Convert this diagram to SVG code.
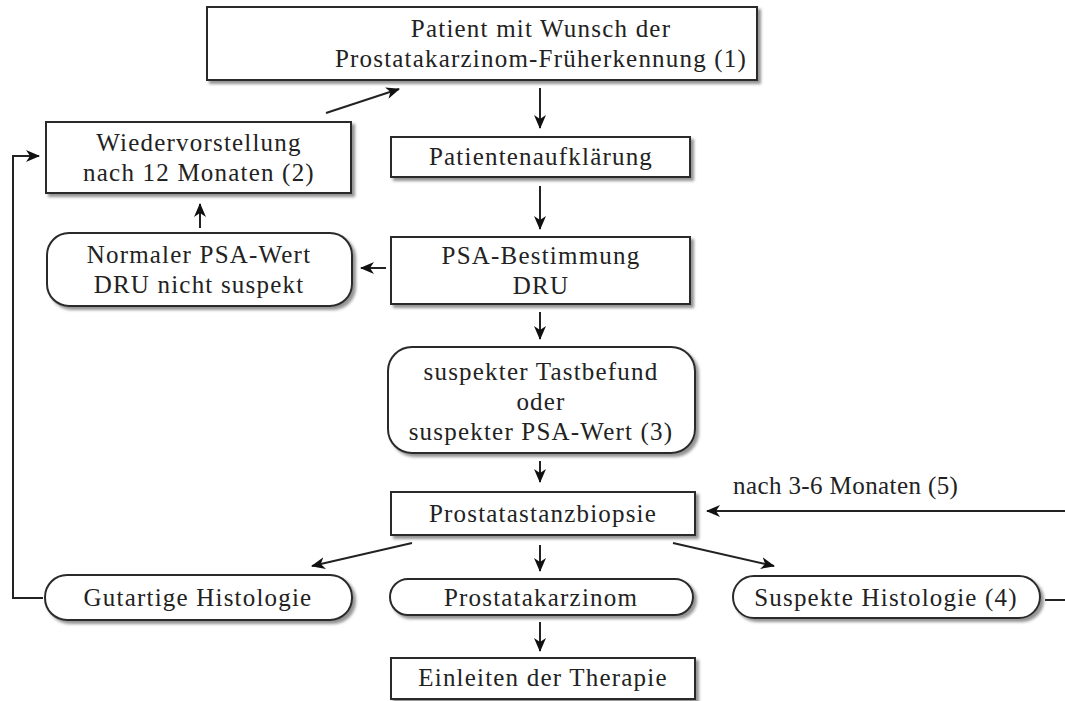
<svg xmlns="http://www.w3.org/2000/svg" width="1065" height="701" viewBox="0 0 1065 701">
<style>
.box{fill:#fff;stroke:#2a2a2a;stroke-width:2;filter:url(#sh)}
.t{font-family:"Liberation Serif","Times New Roman",serif;font-size:25px;letter-spacing:1.2px;fill:#222;text-anchor:middle}
.lbl{text-anchor:start;letter-spacing:0.4px}
.c{fill:none;stroke:#222;stroke-width:2}
.a{marker-end:url(#ah)}
</style>
<defs>
<filter id="sh" x="-10%" y="-20%" width="120%" height="150%">
<feDropShadow dx="3" dy="3" stdDeviation="1.5" flood-color="#777" flood-opacity="0.8"/>
</filter>
<marker id="ah" markerUnits="userSpaceOnUse" markerWidth="14" markerHeight="12" viewBox="0 0 14 12" refX="13" refY="6" orient="auto">
<path d="M0,0 L14,6 L0,12 L4,6 z" fill="#111"/>
</marker>
</defs>
<g id="connectors">
<line class="c a" x1="540" y1="88" x2="540" y2="128"/>
<line class="c a" x1="540" y1="186" x2="540" y2="229"/>
<line class="c a" x1="386" y1="268" x2="361" y2="268"/>
<line class="c a" x1="200" y1="228" x2="200" y2="204"/>
<line class="c a" x1="326" y1="113" x2="399" y2="89"/>
<line class="c a" x1="540" y1="312" x2="540" y2="339"/>
<line class="c a" x1="540" y1="461" x2="540" y2="482"/>
<line class="c a" x1="412" y1="543" x2="312" y2="566"/>
<line class="c a" x1="540" y1="545" x2="540" y2="571"/>
<line class="c a" x1="673" y1="543" x2="774" y2="566"/>
<line class="c a" x1="540" y1="622" x2="540" y2="651"/>
<polyline class="c a" points="43,598 13,598 13,156 39,156"/>
<line class="c" x1="1045" y1="600" x2="1065" y2="600"/>
<line class="c a" x1="1065" y1="511" x2="707" y2="511"/>
<text class="t lbl" x="733" y="494">nach 3-6 Monaten (5)</text>
</g>
<g id="n1">
<rect class="box" x="207" y="7" width="550" height="73"/>
<text class="t" x="541" y="37">Patient mit Wunsch der</text>
<text class="t" x="541" y="67">Prostatakarzinom-Früherkennung (1)</text>
</g>
<g id="n2">
<rect class="box" x="46" y="122" width="305" height="71"/>
<text class="t" x="199" y="151">Wiedervorstellung</text>
<text class="t" x="199" y="181">nach 12 Monaten (2)</text>
</g>
<g id="n3">
<rect class="box" x="391" y="137" width="299" height="40"/>
<text class="t" x="541" y="165">Patientenaufklärung</text>
</g>
<g id="n4">
<rect class="box" x="391" y="237" width="299" height="67"/>
<text class="t" x="541" y="264">PSA-Bestimmung</text>
<text class="t" x="541" y="294">DRU</text>
</g>
<g id="n5">
<rect class="box" x="47" y="233" width="305" height="73" rx="22"/>
<text class="t" x="199" y="263">Normaler PSA-Wert</text>
<text class="t" x="199" y="293">DRU nicht suspekt</text>
</g>
<g id="n6">
<rect class="box" x="388" y="347" width="307" height="106" rx="24"/>
<text class="t" x="541" y="380">suspekter Tastbefund</text>
<text class="t" x="541" y="410">oder</text>
<text class="t" x="541" y="440">suspekter PSA-Wert (3)</text>
</g>
<g id="n7">
<rect class="box" x="391" y="492" width="304" height="43"/>
<text class="t" x="543" y="522">Prostatastanzbiopsie</text>
</g>
<g id="n8">
<rect class="box" x="45" y="575" width="307" height="45" rx="22"/>
<text class="t" x="198" y="606">Gutartige Histologie</text>
</g>
<g id="n9">
<rect class="box" x="390" y="579" width="303" height="36" rx="18"/>
<text class="t" x="541" y="606">Prostatakarzinom</text>
</g>
<g id="n10">
<rect class="box" x="733" y="576" width="307" height="42" rx="21"/>
<text class="t" x="886" y="606">Suspekte Histologie (4)</text>
</g>
<g id="n11">
<rect class="box" x="391" y="658" width="304" height="41"/>
<text class="t" x="543" y="686">Einleiten der Therapie</text>
</g>
</svg>
